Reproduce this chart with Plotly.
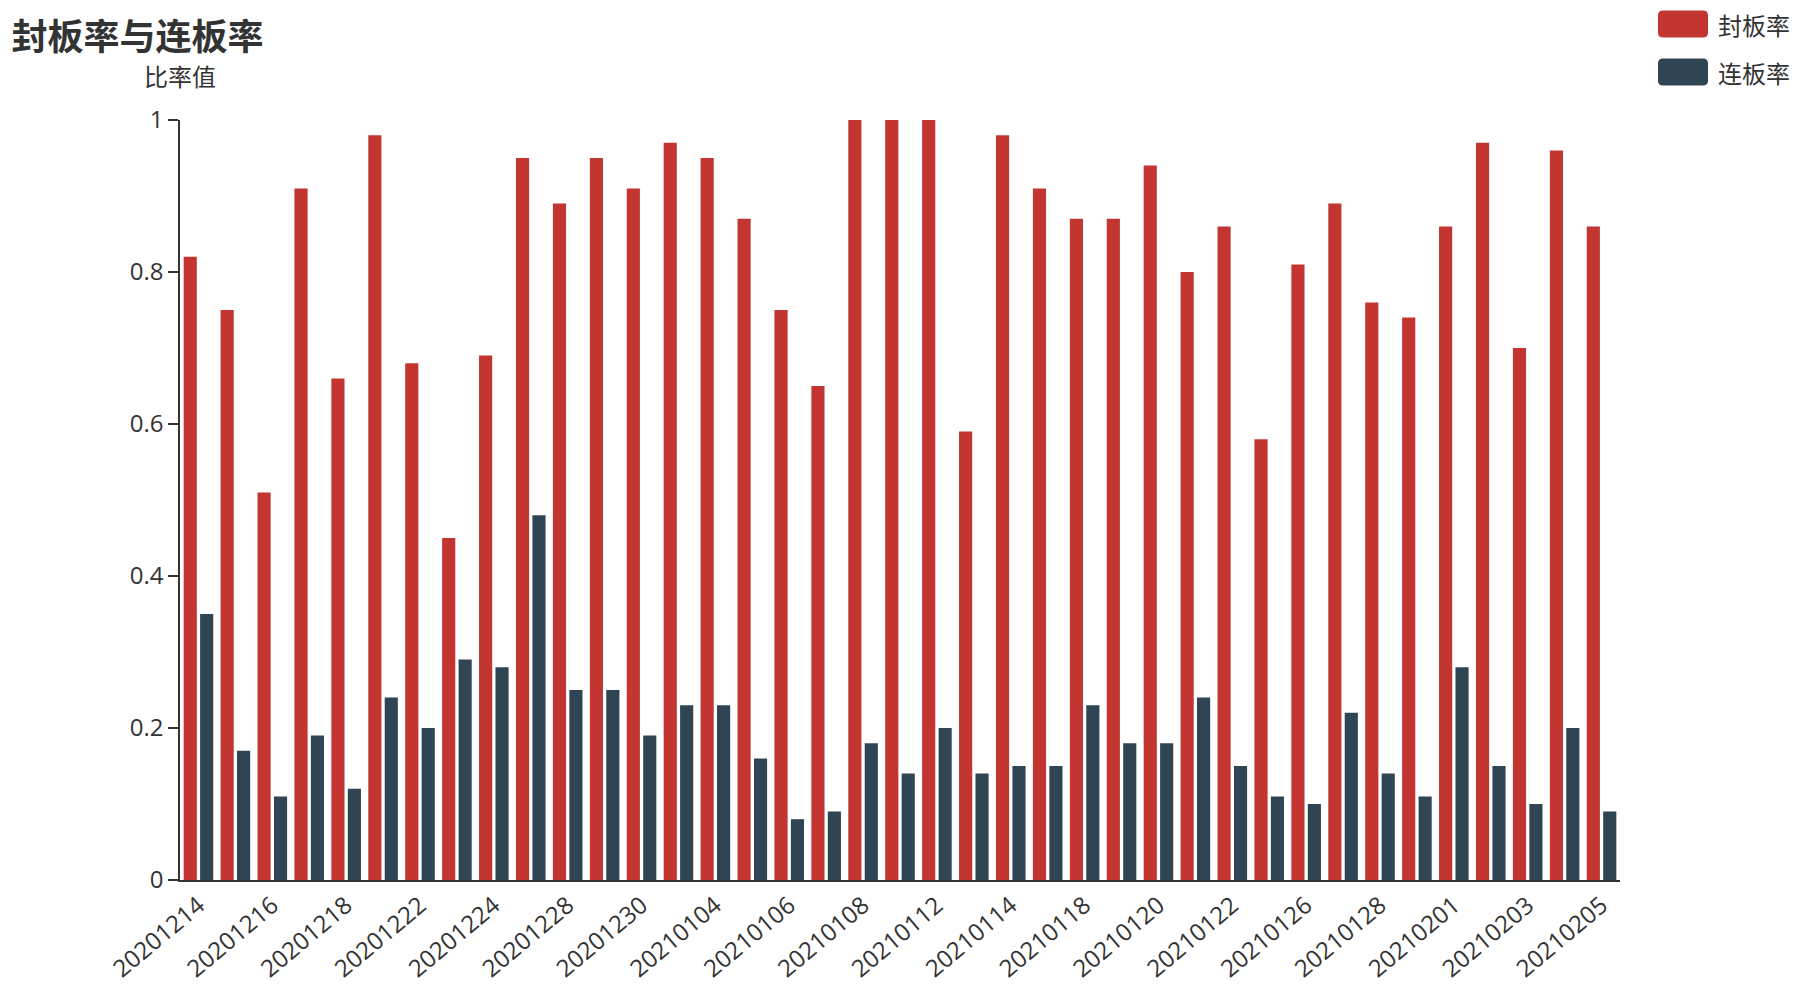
import plotly.graph_objects as go

dates = ["20201214", "20201215", "20201216", "20201217", "20201218", "20201221", "20201222",
         "20201223", "20201224", "20201225", "20201228", "20201229", "20201230", "20201231",
         "20210104", "20210105", "20210106", "20210107", "20210108", "20210111", "20210112",
         "20210113", "20210114", "20210115", "20210118", "20210119", "20210120", "20210121",
         "20210122", "20210125", "20210126", "20210127", "20210128", "20210129", "20210201",
         "20210202", "20210203", "20210204", "20210205"]

feng_ban = [0.82, 0.75, 0.51, 0.91, 0.66, 0.98, 0.68, 0.45, 0.69, 0.95, 0.89, 0.95, 0.91,
            0.97, 0.95, 0.87, 0.75, 0.65, 1.0, 1.0, 1.0, 0.59, 0.98, 0.91, 0.87, 0.87, 0.94,
            0.80, 0.86, 0.58, 0.81, 0.89, 0.76, 0.74, 0.86, 0.97, 0.70, 0.96, 0.86]

lian_ban = [0.35, 0.17, 0.11, 0.19, 0.12, 0.24, 0.20, 0.29, 0.28, 0.48, 0.25, 0.25, 0.19,
            0.23, 0.23, 0.16, 0.08, 0.09, 0.18, 0.14, 0.20, 0.14, 0.15, 0.15, 0.23, 0.18, 0.18,
            0.24, 0.15, 0.11, 0.10, 0.22, 0.14, 0.11, 0.28, 0.15, 0.10, 0.20, 0.09]

series_names = ["封板率", "连板率"]
colors = ["#c23531", "#2f4554"]
y_ticks = [0, 0.2, 0.4, 0.6, 0.8, 1]
y_tick_text = ["0", "0.2", "0.4", "0.6", "0.8", "1"]

FONT = "Open Sans, Noto Sans CJK SC, sans-serif"
CJK = "Noto Sans CJK SC, sans-serif"
TXT = "#333333"

# page offset (body margin) and plot-area pixel box in the screenshot
OFF = 8
PX0, PX1, PY0, PY1 = 180, 1620, 120, 880
W, H = 1800, 1000
plot_w, plot_h = PX1 - PX0, PY1 - PY0

fig = go.Figure()
for name, vals, col in zip(series_names, [feng_ban, lian_ban], colors):
    fig.add_trace(go.Bar(x=dates, y=vals, name=name, marker=dict(color=col, line=dict(width=0))))

fig.update_layout(
    width=W, height=H,
    barmode="group", bargap=0.11, bargroupgap=0.2,
    plot_bgcolor="white", paper_bgcolor="white",
    margin=dict(l=PX0 - OFF, r=W - PX1 + OFF, t=PY0 - OFF, b=H - PY1 + OFF, autoexpand=False),
    showlegend=False,
    font=dict(family=FONT, color=TXT, size=24),
    title=dict(text="<b>封板率与连板率</b>", x=0.002, xanchor="left", y=0.971, yanchor="middle",
               font=dict(size=36, color=TXT, family=CJK)),
)

fig.update_xaxes(
    type="category", tickmode="array", tickvals=dates[::2], ticktext=dates[::2],
    tickangle=-40, showline=True, linecolor=TXT, linewidth=2, ticks="",
    showgrid=False, zeroline=False, tickfont=dict(size=24, color=TXT),
)
fig.update_yaxes(
    range=[0, 1], tickmode="array", tickvals=y_ticks, ticktext=y_tick_text,
    showline=True, linecolor=TXT, linewidth=1.5, ticks="outside", ticklen=10, tickwidth=1.5,
    tickcolor=TXT, showgrid=False, zeroline=False, tickfont=dict(size=24, color=TXT),
)

# y-axis name
fig.add_annotation(text="比率值", xref="paper", yref="paper", x=0, y=(PY1 - 75) / plot_h,
                   xanchor="center", yanchor="middle", showarrow=False,
                   font=dict(size=24, color=TXT, family=CJK))

# custom legend with rounded swatches
legend_centers = [24, 72]
for name, col, cy in zip(series_names, colors, legend_centers):
    x0 = (1658 - PX0) / plot_w
    x1 = (1708 - PX0) / plot_w
    y0 = (PY1 - (cy + 13.5)) / plot_h
    y1 = (PY1 - (cy - 13.5)) / plot_h
    rx = 5 / plot_w
    ry = 5 / plot_h
    path = (f"M{x0+rx},{y0} L{x1-rx},{y0} Q{x1},{y0} {x1},{y0+ry} L{x1},{y1-ry} Q{x1},{y1} {x1-rx},{y1} "
            f"L{x0+rx},{y1} Q{x0},{y1} {x0},{y1-ry} L{x0},{y0+ry} Q{x0},{y0} {x0+rx},{y0} Z")
    fig.add_shape(type="path", path=path, xref="paper", yref="paper",
                  fillcolor=col, line=dict(width=0))
    fig.add_annotation(text=name, xref="paper", yref="paper",
                       x=(1716 - PX0) / plot_w, y=(PY1 - cy) / plot_h,
                       xanchor="left", yanchor="middle", showarrow=False,
                       font=dict(size=24, color=TXT, family=CJK))

fig.write_html("out.html")
